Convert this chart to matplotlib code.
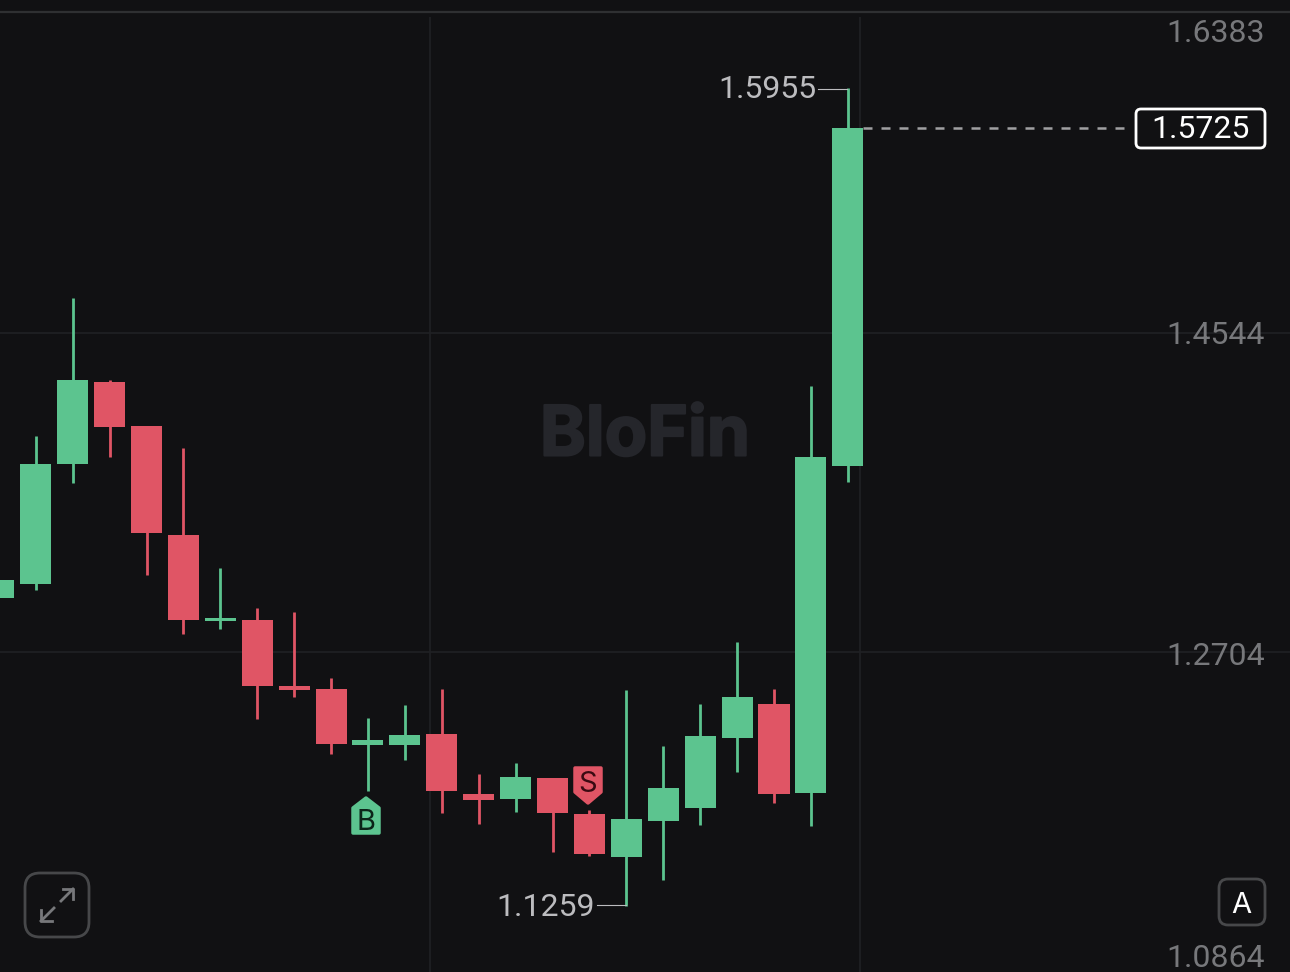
import matplotlib
matplotlib.use("Agg")
import matplotlib.pyplot as plt
import matplotlib.patheffects as pe
from matplotlib.patches import FancyBboxPatch, Polygon

plt.rcParams['font.family'] = ['Inter', 'DejaVu Sans']

# candles, oldest first
opens = [1.3016, 1.3096, 1.3788, 1.4261, 1.4008, 1.3379, 1.2883, 1.2889, 1.2508, 1.2491, 1.2168, 1.2168,
         1.2231, 1.1885, 1.1856, 1.1977, 1.1770, 1.1522, 1.1729, 1.1804, 1.2208, 1.2404, 1.1891, 1.3777]
closes = [1.3119, 1.3788, 1.4273, 1.4002, 1.3390, 1.2889, 1.2900, 1.2508, 1.2485, 1.2173, 1.2196, 1.2225,
          1.1902, 1.1850, 1.1983, 1.1775, 1.1539, 1.1741, 1.1920, 1.2220, 1.2444, 1.1885, 1.3829, 1.5725]
highs = [1.3119, 1.3950, 1.4746, 1.4273, 1.4008, 1.3881, 1.3189, 1.2958, 1.2935, 1.2554, 1.2323, 1.2398,
         1.2491, 1.2000, 1.2064, 1.1977, 1.1793, 1.2485, 1.2162, 1.2404, 1.2762, 1.2491, 1.4238, 1.5955]
lows = [1.3016, 1.3062, 1.3679, 1.3829, 1.3148, 1.2808, 1.2837, 1.2318, 1.2444, 1.2116, 1.1902, 1.2081,
        1.1775, 1.1712, 1.1781, 1.1550, 1.1527, 1.1239, 1.1389, 1.1706, 1.2012, 1.1833, 1.1700, 1.3685]

tick_labels = ["1.6383", "1.4544", "1.2704", "1.0864"]
grid_prices = [1.4544, 1.2704]
grid_x = [11.688, 23.34]
last_price = 1.5725

BG = '#111113'
GREEN = '#5cc48f'
RED = '#e05565'
GRID = '#202124'
EDGE = '#47484a'
NUM_FONT = 'Roboto'  # tabular digits, same widths as the app labels
NUM_SIZE = 23

fig = plt.figure(figsize=(12.9, 9.72), dpi=100, facecolor=BG)
ax = fig.add_axes([0, 0, 1, 1], facecolor=BG)
ax.set_xlim(0.03, 34.98)
ax.set_ylim(1.08582, 1.6465)
ax.axis('off')

# grid
ax.hlines(grid_prices, 0.03, 34.98, color=GRID, lw=1.2, zorder=1)
ax.vlines(grid_x, 1.08582, 1.6367, color=GRID, lw=1.2, zorder=1)

xs = list(range(len(opens)))
colors = [GREEN if c >= o else RED for o, c in zip(opens, closes)]
ax.vlines(xs, lows, highs, color=colors, lw=2.0, zorder=2)
ax.bar(xs, [c - o for o, c in zip(opens, closes)], bottom=opens, width=0.84, color=colors, zorder=3)

# last price line
ax.hlines(last_price, 23.42, 30.72, color='#a0a0a2', lw=1.8, linestyles=(0, (3.6, 3.6)), zorder=2)

# overlay in pixels for the labels and buttons
ui = fig.add_axes([0, 0, 1, 1], facecolor='none')
ui.set_xlim(0, 1290)
ui.set_ylim(972, 0)
ui.axis('off')

ui.plot([0, 1290], [12, 12], color='#2f3032', lw=1.6)

for label, y in zip(tick_labels, [34, 335, 656, 958]):
    ui.text(1265, y, label, color='#77787b', fontsize=NUM_SIZE, family=NUM_FONT, ha='right', va='center')

# high / low labels
ui.text(816, 90, "1.5955", color='#bcbcbf', fontsize=NUM_SIZE, family=NUM_FONT, ha='right', va='center')
ui.plot([818, 847], [89, 89], color='#bcbcbf', lw=0.8)
ui.text(595, 907, "1.1259", color='#bcbcbf', fontsize=NUM_SIZE, family=NUM_FONT, ha='right', va='center')
ui.plot([597, 626], [905, 905], color='#bcbcbf', lw=0.8)

# current price badge
ui.add_patch(FancyBboxPatch((1136, 109), 129, 39, boxstyle="round,pad=0,rounding_size=5",
                            fc=BG, ec='white', lw=2, zorder=4))
ui.text(1200, 130, "1.5725", color='white', fontsize=NUM_SIZE, family=NUM_FONT, ha='center', va='center', zorder=5)

# watermark
ui.text(645, 437, "BloFin", color='#25262b', fontsize=50, fontweight='bold', ha='center', va='center', zorder=0,
        path_effects=[pe.withStroke(linewidth=1.5, foreground='#25262b')])

# buy / sell tags
ui.add_patch(Polygon([(353, 808), (366, 798), (379, 808), (379, 833), (353, 833)], closed=True,
                     fc=GREEN, ec=GREEN, lw=2.5, joinstyle='round', zorder=4))
ui.text(366, 822, "B", color='#0b2318', fontsize=21, ha='center', va='center', zorder=5)
ui.add_patch(Polygon([(575, 768), (601, 768), (601, 792), (588, 803), (575, 792)], closed=True,
                     fc=RED, ec=RED, lw=2.5, joinstyle='round', zorder=4))
ui.text(588, 784, "S", color='#3a0a12', fontsize=21, ha='center', va='center', zorder=5)

# expand button
ui.add_patch(FancyBboxPatch((25, 873), 64, 64, boxstyle="round,pad=0,rounding_size=15",
                            fc='none', ec=EDGE, lw=2))
arrow_col = '#77787b'
ui.plot([41, 54], [921, 908], color=arrow_col, lw=2)
ui.plot([41, 41, 52], [910, 921, 921], color=arrow_col, lw=2)
ui.plot([61, 73], [901, 889], color=arrow_col, lw=2)
ui.plot([63, 73, 73], [889, 889, 899], color=arrow_col, lw=2)

# auto button
ui.add_patch(FancyBboxPatch((1219, 879), 46, 46, boxstyle="round,pad=0,rounding_size=9",
                            fc='none', ec=EDGE, lw=2))
ui.text(1241, 905, "A", color='white', fontsize=21, ha='center', va='center')

fig.savefig('out.png', dpi=100, facecolor=BG)
